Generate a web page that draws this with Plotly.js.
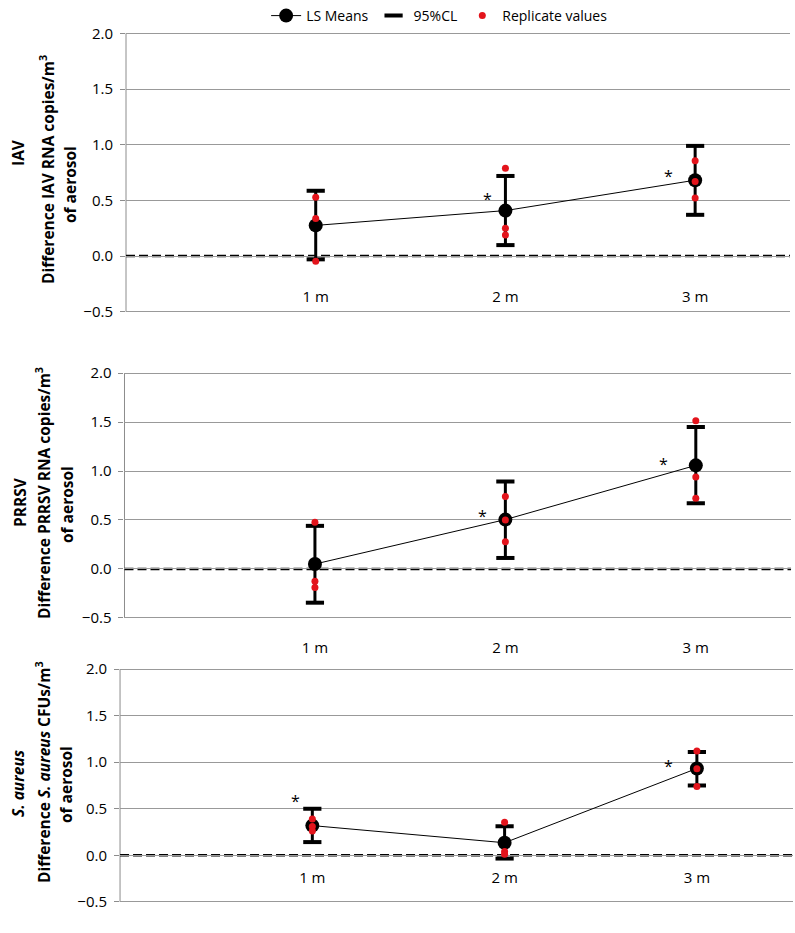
<!DOCTYPE html>
<html>
<head>
<meta charset="utf-8">
<script src="https://cdn.plot.ly/plotly-3.0.1.min.js"></script>
<style>
  html, body { margin: 0; padding: 0; background: #fff; }
  #chart { width: 795px; height: 933px; }
</style>
</head>
<body>
<div id="chart"></div>
<script>
// distances from the source
const distances = ["1 m", "2 m", "3 m"];
const xPos = [1, 2, 3];

// IAV
const iavMeans = [0.275, 0.408, 0.681];
const iavLower = [-0.03, 0.098, 0.370];
const iavUpper = [0.586, 0.719, 0.989];
const iavReps = [[0.527, 0.337, -0.047], [0.788, 0.249, 0.189], [0.855, 0.67, 0.521]];
const iavStars = {x: [1.905, 2.858], y: [0.551, 0.755]};

// PRRSV
const prrsvMeans = [0.05, 0.504, 1.058];
const prrsvLower = [-0.345, 0.112, 0.67];
const prrsvUpper = [0.44, 0.893, 1.45];
const prrsvReps = [[0.477, -0.125, -0.19], [0.74, 0.50, 0.277], [1.515, 0.94, 0.723]];
const prrsvStars = {x: [1.879, 2.83], y: [0.578, 1.116]};

// S. aureus
const saMeans = [0.319, 0.135, 0.933];
const saLower = [0.142, -0.035, 0.75];
const saUpper = [0.5, 0.312, 1.11];
const saReps = [[0.39, 0.31, 0.26], [0.354, 0.04, 0.01], [1.12, 0.93, 0.74]];
const saStars = {x: [0.91, 2.85], y: [0.628, 1.0]};

const fontFam = '"Open Sans", "Liberation Sans", sans-serif';

const panels = [
    {means: iavMeans, lower: iavLower, upper: iavUpper, reps: iavReps, stars: iavStars,
     xdom: [0.1585, 0.9937], ydom: [0.6645, 0.9657], labelPos: 0.6935,
     lead: "IAV", line1: "Difference IAV RNA copies/m<sup>3</sup>",
     tx: [18, 47, 70], ty: [153, 170, 185]},
    {means: prrsvMeans, lower: prrsvLower, upper: prrsvUpper, reps: prrsvReps, stars: prrsvStars,
     xdom: [0.1566, 0.995], ydom: [0.3365, 0.6013], labelPos: 0.3172,
     lead: "PRRSV", line1: "Difference PRRSV RNA copies/m<sup>3</sup>",
     tx: [20, 43, 67], ty: [502, 493, 505]},
    {means: saMeans, lower: saLower, upper: saUpper, reps: saReps, stars: saStars,
     xdom: [0.151, 0.9975], ydom: [0.0322, 0.2840], labelPos: 0.0707,
     lead: "<i>S. aureus</i>", line1: "Difference <i>S. aureus</i> CFUs/m<sup>3</sup>",
     tx: [18, 43, 66], ty: [783, 772, 785]}
];

const W = 795, H = 933;
const traces = [];
const annotations = [];
const shapes = [];
const layout = {
    width: W, height: H,
    margin: {t: 0, r: 0, b: 0, l: 0},
    paper_bgcolor: "#fff",
    plot_bgcolor: "#fff",
    font: {family: fontFam, size: 14, color: "#000"},
    showlegend: true,
    legend: {
        orientation: "h", x: 0.553, xanchor: "center", y: 1, yanchor: "top",
        font: {size: 14}, itemwidth: 30, tracegroupgap: 0
    }
};

panels.forEach((p, i) => {
    const s = i === 0 ? "" : String(i + 1);
    const xa = "x" + s, ya = "y" + s;

    // LS means with CI bars
    traces.push({
        x: xPos, y: p.means, type: "scatter", mode: "lines+markers",
        name: "LS Means", legendgroup: "ls", showlegend: i === 0,
        line: {color: "#000", width: 1},
        marker: {color: "#000", size: 14},
        error_y: {
            type: "data", symmetric: false,
            array: p.upper.map((u, k) => u - p.means[k]),
            arrayminus: p.lower.map((l, k) => p.means[k] - l),
            color: "#000", thickness: 3, width: 0
        },
        xaxis: xa, yaxis: ya, hoverinfo: "skip"
    });

    // CI caps
    traces.push({
        x: xPos.concat(xPos), y: p.upper.concat(p.lower), type: "scatter", mode: "markers",
        name: "95%CL", legendgroup: "cl", showlegend: i === 0,
        marker: {symbol: "line-ew", size: 13, color: "#000", line: {color: "#000", width: 4}},
        xaxis: xa, yaxis: ya, hoverinfo: "skip"
    });

    // replicate values
    const rx = [], ry = [];
    p.reps.forEach((vals, k) => vals.forEach(v => { rx.push(xPos[k]); ry.push(v); }));
    traces.push({
        x: rx, y: ry, type: "scatter", mode: "markers",
        name: "Replicate values", legendgroup: "rep", showlegend: i === 0,
        marker: {color: "#e3141c", size: 7},
        xaxis: xa, yaxis: ya, hoverinfo: "skip"
    });

    layout["xaxis" + s] = {
        domain: p.xdom, range: [0, 3.5], anchor: "free", position: p.labelPos,
        showline: false, showgrid: false, zeroline: false, ticks: "",
        tickmode: "array", tickvals: xPos, ticktext: distances,
        tickfont: {size: 15, color: "#000"}, fixedrange: true
    };
    layout["yaxis" + s] = {
        domain: p.ydom, range: [-0.512, 2.012], anchor: xa,
        tickmode: "array", tickvals: [-0.5, 0, 0.5, 1, 1.5, 2], tickformat: ".1f",
        showline: false, ticks: "outside", ticklen: 5, tickcolor: "#8c8c8c",
        showgrid: true, gridcolor: "#999", gridwidth: 1, zeroline: false,
        tickfont: {size: 15, color: "#000"}, ticklabelstandoff: 4, fixedrange: true
    };

    // vertical axis line from -0.5 to 2.0
    shapes.push({
        type: "line", layer: "below",
        xref: xa + " domain", x0: 0, x1: 0, yref: ya, y0: -0.5, y1: 2,
        line: {color: "#8c8c8c", width: 1}
    });

    // zero reference
    shapes.push({
        type: "line", layer: "below",
        xref: xa + " domain", x0: 0, x1: 1, yref: ya, y0: 0, y1: 0,
        line: {color: "#000", width: 2.5, dash: "9px,4px"}
    });

    // significance asterisks
    p.stars.x.forEach((sx, k) => {
        annotations.push({
            x: sx, y: p.stars.y[k], xref: xa, yref: ya, text: "*", showarrow: false,
            font: {size: 16, color: "#000"}, xanchor: "center", yanchor: "middle", yshift: -4
        });
    });

    // axis titles
    const titles = [p.lead, p.line1, "of aerosol"];
    titles.forEach((t, k) => {
        annotations.push({
            x: p.tx[k] / W, y: 1 - p.ty[k] / H, xref: "paper", yref: "paper",
            text: "<b>" + t + "</b>", textangle: -90, showarrow: false,
            xanchor: "center", yanchor: "middle",
            font: {size: 15.5, color: "#000"}
        });
    });
});

layout.annotations = annotations;
layout.shapes = shapes;

Plotly.newPlot("chart", traces, layout, {displayModeBar: false, responsive: false});
</script>
</body>
</html>
